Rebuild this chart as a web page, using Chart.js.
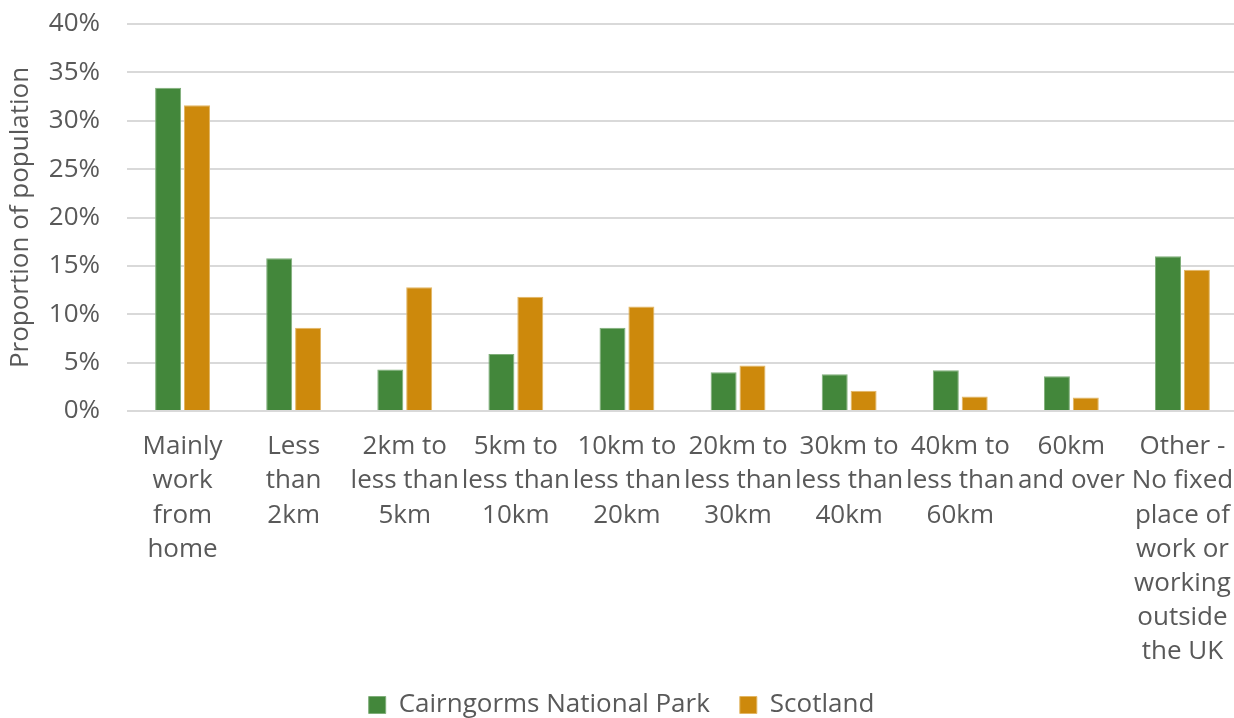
<!DOCTYPE html>
<html>
<head>
<meta charset="utf-8">
<script src="https://cdn.jsdelivr.net/npm/chart.js@4.4.1/dist/chart.umd.min.js"></script>
<style>
  html, body { margin: 0; padding: 0; background: #fff; overflow: hidden; }
  #wrap { width: 1238px; height: 718px; position: relative; }
</style>
</head>
<body>
<div id="wrap"><canvas id="distChart"></canvas></div>
<script>
// === Distance travelled to work ===
const categories = [
  ["Mainly", "work", "from", "home"],
  ["Less", "than", "2km"],
  ["2km to", "less than", "5km"],
  ["5km to", "less than", "10km"],
  ["10km to", "less than", "20km"],
  ["20km to", "less than", "30km"],
  ["30km to", "less than", "40km"],
  ["40km to", "less than", "60km"],
  ["60km", "and over"],
  ["Other -", "No fixed", "place of", "work or", "working", "outside", "the UK"]
];
const cairngorms = [33.4, 15.8, 4.3, 5.9, 8.6, 4.0, 3.8, 4.2, 3.6, 16.0];
const scotland = [31.6, 8.6, 12.8, 11.8, 10.8, 4.7, 2.1, 1.5, 1.4, 14.6];
const yTicks = [0, 5, 10, 15, 20, 25, 30, 35, 40];

const textGrey = "#595959";
const fontFamily = "'Open Sans', 'Noto Sans', sans-serif";

const ctx = document.getElementById("distChart").getContext("2d");

new Chart(ctx, {
  type: "bar",
  data: {
    labels: categories,
    datasets: [
      {
        label: "Cairngorms National Park",
        data: cairngorms,
        backgroundColor: "#43873B",
        borderColor: "#7fae79",
        borderWidth: 1
      },
      {
        label: "Scotland",
        data: scotland,
        backgroundColor: "#CD890C",
        borderColor: "#e2b664",
        borderWidth: 1
      }
    ]
  },
  options: {
    responsive: true,
    maintainAspectRatio: false,
    animation: false,
    datasets: {
      bar: { categoryPercentage: 0.52, barPercentage: 0.9 }
    },
    layout: { padding: { top: 24, left: 5, right: 0, bottom: -10 } },
    scales: {
      x: {
        grid: { display: false, drawTicks: false },
        border: { display: false },
        afterFit: scale => {
          // keep the long wrapped labels from shrinking the plot
          scale.paddingLeft = 0;
          scale.paddingRight = 0;
          scale.height = 251;
        },
        ticks: {
          color: textGrey,
          autoSkip: false,
          maxRotation: 0,
          minRotation: 0,
          padding: 19,
          font: { family: fontFamily, size: 26, lineHeight: 1.31 }
        }
      },
      y: {
        min: 0,
        max: 40,
        afterBuildTicks: scale => {
          scale.ticks = yTicks.map(v => ({ value: v }));
        },
        afterFit: scale => {
          scale.width = 122;
          scale.paddingTop = 0;
          scale.paddingBottom = 0;
        },
        grid: { color: "#d9d9d9", lineWidth: 2, drawTicks: false },
        border: { display: false },
        ticks: {
          color: textGrey,
          padding: 27,
          font: { family: fontFamily, size: 26 },
          callback: v => v + "%"
        },
        title: {
          display: true,
          text: "Proportion of population",
          color: textGrey,
          padding: 0,
          font: { family: fontFamily, size: 26 }
        }
      }
    },
    plugins: {
      legend: {
        position: "bottom",
        labels: {
          color: textGrey,
          boxWidth: 17,
          boxHeight: 17,
          padding: 30,
          font: { family: fontFamily, size: 26 }
        }
      },
      tooltip: { enabled: false }
    }
  }
});
</script>
</body>
</html>
